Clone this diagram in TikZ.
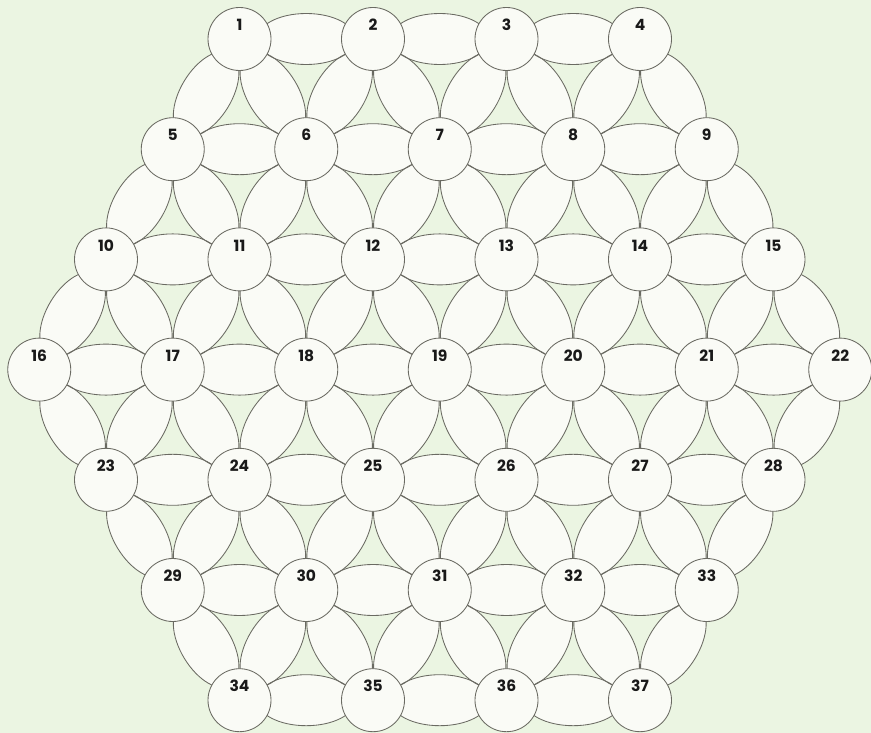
\documentclass[tikz,border=0pt]{standalone}
\usepackage{fontspec}
\setmainfont{Poppins}
\usetikzlibrary{calc,shapes.geometric}
\definecolor{bgc}{HTML}{EBF5E2}
\definecolor{linec}{HTML}{6A6A62}
\definecolor{fillc}{HTML}{FAFBF6}
\newcommand\edgeell[3]{%
  \path let \p1=($(p#3)-(p#2)$), \n1={atan2(\y1,\x1)}, \n2={veclen(\x1,\y1)} in
    ($(p#2)!0.5!(p#3)$) node[#1, rotate=\n1, minimum width={0.734*\n2}, minimum height=51pt] {};}
\newcommand\ellipsepass[1]{%
  % horizontal
  \foreach \s/\n in {1/4,5/5,10/6,16/7,23/6,29/5,34/4}{
    \foreach \j in {2,...,\n}{
      \pgfmathtruncatemacro\ea{\s+\j-2}\pgfmathtruncatemacro\eb{\s+\j-1}
      \edgeell{#1}{\ea}{\eb}
    }
  }
  % upper diagonals
  \foreach \s/\n in {1/4,5/5,10/6}{
    \foreach \j in {1,...,\n}{
      \pgfmathtruncatemacro\ea{\s+\j-1}
      \pgfmathtruncatemacro\eb{\s+\n+\j-1}
      \pgfmathtruncatemacro\ec{\s+\n+\j}
      \edgeell{#1}{\ea}{\eb}
      \edgeell{#1}{\ea}{\ec}
    }
  }
  % lower diagonals
  \foreach \s/\n in {16/7,23/6,29/5}{
    \pgfmathtruncatemacro\m{\n-1}
    \foreach \j in {1,...,\m}{
      \pgfmathtruncatemacro\eb{\s+\n+\j-1}
      \pgfmathtruncatemacro\ea{\s+\j-1}
      \pgfmathtruncatemacro\ec{\s+\j}
      \edgeell{#1}{\ea}{\eb}
      \edgeell{#1}{\ec}{\eb}
    }
  }
}
\begin{document}
\begin{tikzpicture}[x=1pt,y=-1pt,
  circ/.style={circle,draw=linec,fill=fillc,line width=0.85pt,minimum size=63pt,inner sep=0pt},
  num/.style={font=\bfseries\fontsize{15.5}{15.5}\selectfont,text=black!90,inner sep=0pt},
  ellfill/.style={ellipse,fill=fillc,inner sep=0pt},
  ellline/.style={ellipse,draw=linec,line width=0.85pt,inner sep=0pt}]
\fill[bgc] (0,0) rectangle (871,733);
\useasboundingbox (0,0) rectangle (871,733);
\foreach \r/\s/\n/\xo in {0/1/4/239.5,1/5/5/172.75,2/10/6/106,3/16/7/39.25,4/23/6/106,5/29/5/172.75,6/34/4/239.5}{
  \foreach \j in {1,...,\n}{
    \pgfmathtruncatemacro\k{\s+\j-1}
    \coordinate (p\k) at ({\xo+(\j-1)*133.5},{39+\r*110.2});
  }
}
\ellipsepass{ellfill}
\ellipsepass{ellline}
\foreach \k in {1,...,37}{
  \node[circ] (c\k) at (p\k) {};
  \node[num] (n\k) at ([yshift=14pt]p\k) {\k};
}
\end{tikzpicture}
\end{document}
